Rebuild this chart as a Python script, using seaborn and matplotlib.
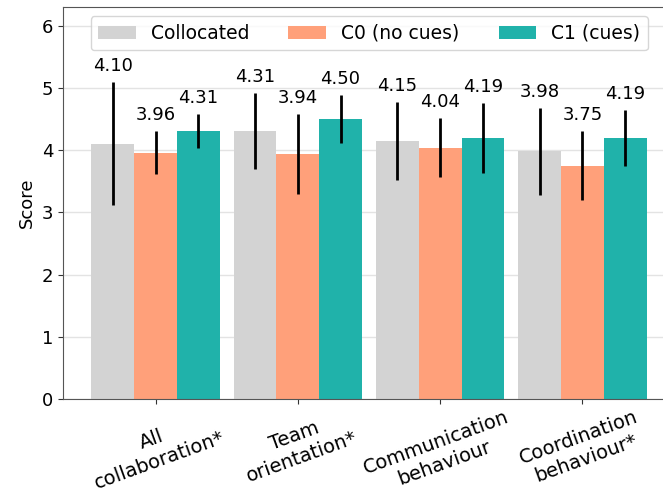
import numpy as np
import pandas as pd
import matplotlib
matplotlib.use("Agg")
import matplotlib.pyplot as plt
import seaborn as sns

categories = ["All\ncollaboration*", "Team\norientation*", "Communication\nbehaviour", "Coordination\nbehaviour*"]
conditions = ["Collocated", "C0 (no cues)", "C1 (cues)"]
collocated_mean = [4.10, 4.31, 4.15, 3.98]
c0_mean = [3.96, 3.94, 4.04, 3.75]
c1_mean = [4.31, 4.50, 4.19, 4.19]
collocated_err = [0.99, 0.61, 0.63, 0.70]
c0_err = [0.35, 0.64, 0.48, 0.55]
c1_err = [0.27, 0.39, 0.56, 0.45]
colors = ["#D3D3D3", "#FFA07A", "#20B2AA"]

means = [collocated_mean, c0_mean, c1_mean]
errs = [collocated_err, c0_err, c1_err]

rows = []
for cond, m in zip(conditions, means):
    for cat, v in zip(categories, m):
        rows.append({"category": cat, "condition": cond, "score": v})
df = pd.DataFrame(rows)

sns.set_style("ticks")
plt.rcParams["font.family"] = ["DejaVu Sans"]
plt.rcParams["text.color"] = "black"
plt.rcParams["axes.labelcolor"] = "black"

fig = plt.figure(figsize=(6.63, 4.92), dpi=100)
ax = fig.add_axes([63 / 663, 93 / 492, 612 / 663, 392 / 492])

sns.barplot(data=df, x="category", y="score", hue="condition",
            hue_order=conditions, order=categories, palette=colors,
            width=0.9, gap=0, errorbar=None, ax=ax, saturation=1, linewidth=0)

for container, m, e in zip(ax.containers, means, errs):
    xs = [p.get_x() + p.get_width() / 2 for p in container.patches]
    ax.errorbar(xs, m, yerr=e, fmt="none", ecolor="black", elinewidth=2, capsize=0, zorder=5)
    for x, v, ee in zip(xs, m, e):
        ax.annotate(f"{v:.2f}", (x, v + ee), xytext=(0, 5), textcoords="offset points",
                    ha="center", va="bottom", fontsize=13, color="black")

ax.set_xlim(-0.65, 3.65)
ax.set_ylim(0, 6.3)
ax.set_yticks([0, 1, 2, 3, 4, 5, 6])
ax.tick_params(axis="y", labelsize=13, colors="#333333", labelcolor="black")
ax.tick_params(axis="x", labelsize=14, colors="#333333", labelcolor="black", pad=2.5)
ax.set_xlabel("")
ax.set_ylabel("Score", fontsize=13, color="black")
plt.setp(ax.get_xticklabels(), rotation=20, ha="center")
ax.grid(axis="y", color="#E3E3E3", linewidth=1)
ax.set_axisbelow(True)
for name, s in ax.spines.items():
    s.set_visible(name != "right")
    s.set_color("#555555")

ax.legend(loc="upper center", ncol=3, fontsize=13.5, frameon=True,
          columnspacing=2.1, handlelength=2.0)

fig.savefig("out.png", dpi=100)
